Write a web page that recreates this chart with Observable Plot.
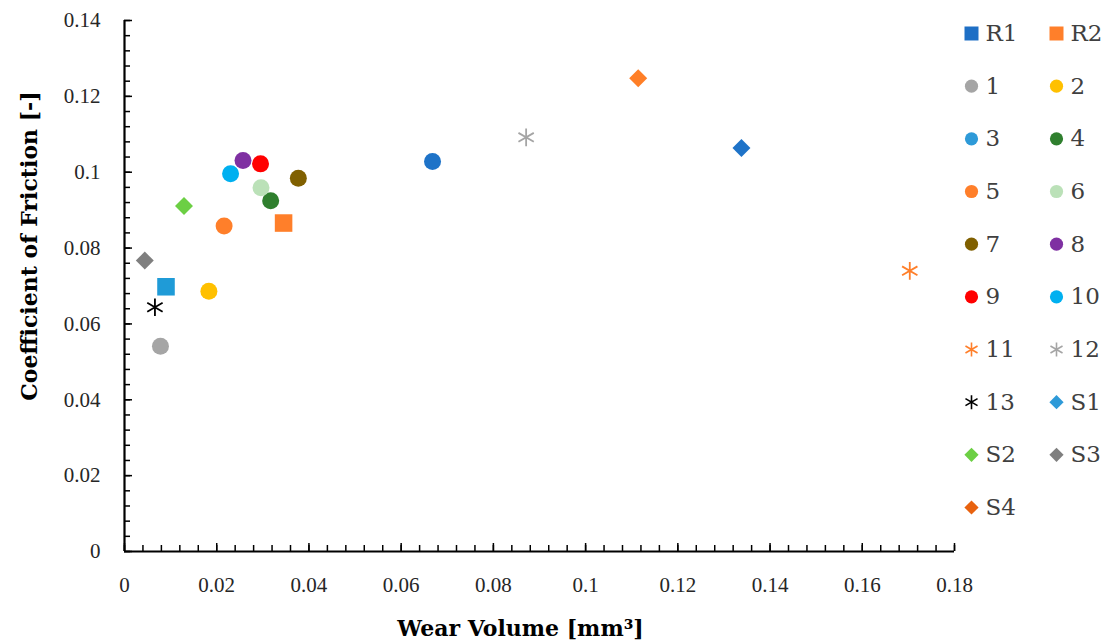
<!DOCTYPE html>
<html><head><meta charset="utf-8">
<script src="https://cdn.jsdelivr.net/npm/d3@7"></script>
<script src="https://cdn.jsdelivr.net/npm/@observablehq/plot@0.6"></script>
<style>
body{margin:0;background:#fff}
#wrap{position:relative;width:1104px;height:641px;overflow:hidden}
#legend{position:absolute;left:940px;top:0}
#main{position:absolute;left:0;top:0}
</style>
</head><body><div id="wrap"><div id="main"></div><div id="legend"></div></div>
<script>
// ---- data ----
const series     = ["R1","R2","1","2","3","4","5","6","7","8","9","10","11","12","13","S1","S2","S3","S4"];
const shapes     = ["square","square","circle","circle","circle","circle","circle","circle","circle","circle","circle","circle","asterisk","asterisk","asterisk","diamond","diamond","diamond","diamond"];
const wearVolume = [0.0090,0.0345,0.0078,0.0183,0.0668,0.0317,0.0216,0.0296,0.0377,0.0257,0.0295,0.0230,0.1703,0.0871,0.0066,0.1338,0.0129,0.0044,0.1114];
const cof        = [0.0698,0.0866,0.0541,0.0686,0.1028,0.0925,0.0858,0.0959,0.0984,0.1031,0.1022,0.0996,0.0740,0.1092,0.0644,0.1064,0.0911,0.0767,0.1248];
const xTicks = [0,0.02,0.04,0.06,0.08,0.1,0.12,0.14,0.16,0.18];
const yTicks = [0,0.02,0.04,0.06,0.08,0.1,0.12,0.14];
const xTitle = "Wear Volume [mm³]";
const yTitle = "Coefficient of Friction [-]";

// ---- styles ----
const pointColor = {R1:"#1F9BD7",R2:"#FF7F2A","1":"#A5A5A5","2":"#FFC000","3":"#1E73C8","4":"#2F7F2E","5":"#FF7F2A","6":"#BBE1B8","7":"#806000","8":"#7F30A2","9":"#FF0000","10":"#00B0F0","11":"#FF7F2A","12":"#A5A5A5","13":"#000000",S1:"#1E73C8",S2:"#6CCF44",S3:"#7F7F7F",S4:"#FF7F27"};
const legendColor = Object.assign({}, pointColor, {R1:"#1E6FC5","3":"#2E9AD8",S1:"#2E9AD8",S4:"#E8620F"});
const symbolOf = {square:"square",circle:"circle",asterisk:"asterisk",diamond:"diamond2"};
const mainR = {square:9.9,circle:8.5,asterisk:8.4,diamond:8.1};
const legR = {square:7.9,circle:6.6,asterisk:6.6,diamond:6.4};
const tickFont = "Liberation Serif";
const titleFont = "DejaVu Serif";
const legendFont = "DejaVu Serif";

const data = series.map((s,i)=>({s, shape:shapes[i], x:wearVolume[i], y:cof[i], col:i%2, row:Math.floor(i/2)}));

function minorOf(major){
  const out=[];
  for(let i=0;i<major.length-1;i++){const a=major[i],b=major[i+1];for(let k=0;k<5;k++)out.push(a+(b-a)*k/5);}
  out.push(major[major.length-1]);
  return out;
}

function dotFor(d, xk, yk, colorMap, rMap, sw){
  const sh=d.shape;
  return sh==="asterisk"
    ? Plot.dot([d],{x:xk,y:yk,symbol:symbolOf[sh],r:rMap[sh],stroke:e=>colorMap[e.s],strokeWidth:sw,fill:"none"})
    : Plot.dot([d],{x:xk,y:yk,symbol:symbolOf[sh],r:rMap[sh],fill:e=>colorMap[e.s],stroke:"none"});
}

const W=1104,H=641, mL=124, mR=150, mT=20, mB=90;
const innerW=W-mL-mR, innerH=H-mT-mB;

const main = Plot.plot({
  width:W, height:H, marginLeft:mL, marginRight:mR, marginTop:mT, marginBottom:mB,
  style:{background:"#fff", color:"#262626", overflow:"visible"},
  x:{domain:[0,0.18]}, y:{domain:[0,0.14]},
  color:{type:"identity"},
  marks:[
    Plot.tickX(minorOf(xTicks),{x:d=>d, insetTop:innerH-6, stroke:"#000", strokeWidth:1.5}),
    Plot.tickX(xTicks,{x:d=>d, insetTop:innerH-8, stroke:"#000", strokeWidth:1.5}),
    Plot.tickY(minorOf(yTicks),{y:d=>d, insetRight:innerW-6, stroke:"#000", strokeWidth:1.5}),
    Plot.tickY(yTicks,{y:d=>d, insetRight:innerW-8, stroke:"#000", strokeWidth:1.5}),
    Plot.ruleX([0],{stroke:"#000",strokeWidth:2.2}),
    Plot.ruleY([0],{stroke:"#000",strokeWidth:2.2}),
    Plot.axisX(xTicks,{tickSize:0, tickPadding:26, tickFormat:d=>`${d}`, label:null, fontSize:21, fontFamily:tickFont, fontVariant:"normal"}),
    Plot.axisY(yTicks,{tickSize:0, tickPadding:24, tickFormat:d=>`${d}`, label:null, fontSize:21, fontFamily:tickFont, fontVariant:"normal"}),
    ...data.map(d=>dotFor(d,"x","y",pointColor,mainR,1.8)),
    Plot.text([xTitle],{frameAnchor:"bottom", textAnchor:"middle", lineAnchor:"middle", dy:77, dx:-19, fontWeight:"bold", fontSize:22, fontFamily:titleFont, fill:"#000"}),
    Plot.text([yTitle],{frameAnchor:"left", textAnchor:"middle", lineAnchor:"middle", rotate:-90, dx:-95, dy:-40, fontWeight:"bold", fontSize:22, fontFamily:titleFont, fill:"#000"})
  ]
});
document.getElementById("main").appendChild(main);

const legend = Plot.plot({
  width:164, height:540, margin:0,
  style:{background:"transparent"},
  x:{domain:[0,1], range:[31,116], axis:null},
  y:{domain:[0,9], range:[33,507], axis:null},
  color:{type:"identity"},
  marks:[
    ...data.map(d=>dotFor(d,"col","row",legendColor,legR,1.6)),
    Plot.text(data,{x:"col",y:"row",text:"s",textAnchor:"start",lineAnchor:"middle",dx:14,fontSize:23,fontFamily:legendFont,fill:"#404040"})
  ]
});
document.getElementById("legend").appendChild(legend);
</script>
</body></html>
